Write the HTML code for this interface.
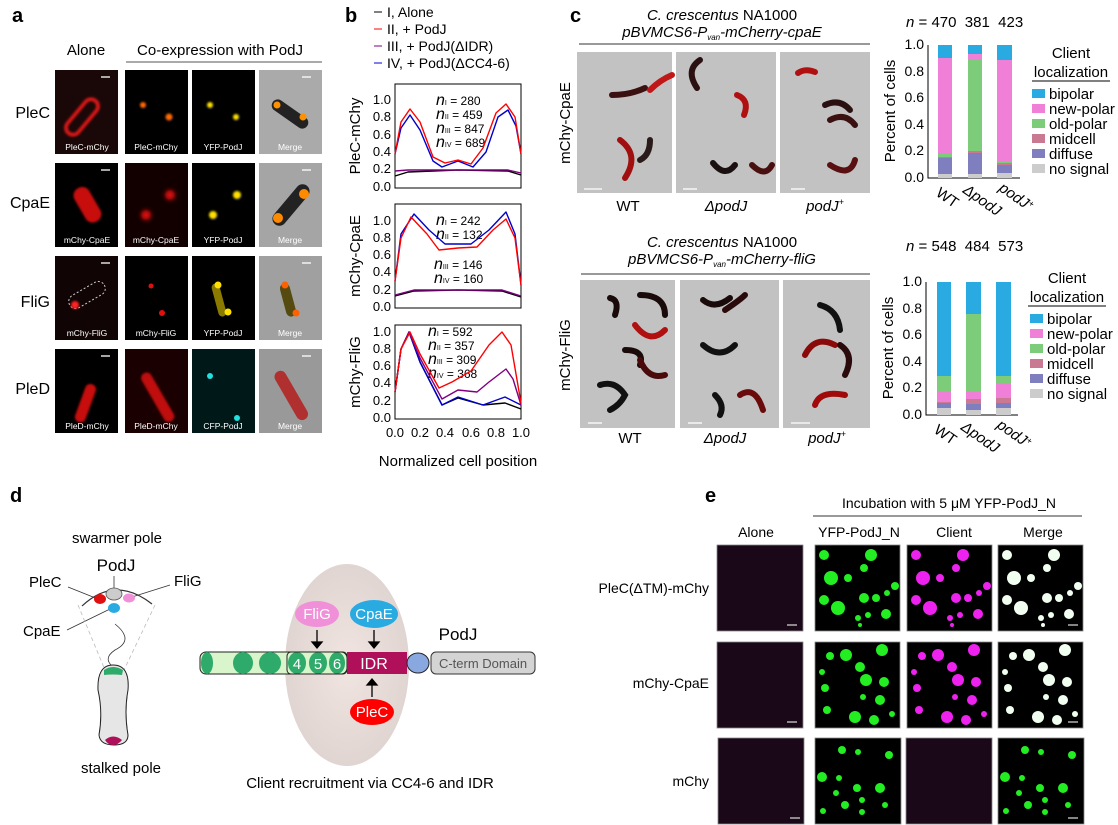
<!DOCTYPE html>
<html><head><meta charset="utf-8"><style>
html,body{margin:0;padding:0;background:#fff}
svg{display:block;font-family:"Liberation Sans",Arial,sans-serif}
</style></head><body>
<svg width="1118" height="825" viewBox="0 0 1118 825" xmlns="http://www.w3.org/2000/svg">
<defs>
<filter id="bl" x="-50%" y="-50%" width="200%" height="200%"><feGaussianBlur stdDeviation="2"/></filter>
<filter id="bl1" x="-50%" y="-50%" width="200%" height="200%"><feGaussianBlur stdDeviation="1"/></filter>
<radialGradient id="eg" cx="0.5" cy="0.5" r="0.5"><stop offset="0" stop-color="#f0e2de"/><stop offset="1" stop-color="#dcd0cc"/></radialGradient>
</defs>
<g font-weight="bold" font-size="20">
<text x="12" y="22">a</text><text x="345" y="22">b</text><text x="570" y="22">c</text><text x="10" y="502">d</text><text x="705" y="502">e</text>
</g>
<!-- Panel a -->
<g font-size="15">
<text x="86" y="55" text-anchor="middle">Alone</text>
<text x="220" y="55" text-anchor="middle">Co-expression with PodJ</text>
</g>
<line x1="126" y1="62" x2="322" y2="62" stroke="#555" stroke-width="1"/>
<g font-size="16" text-anchor="end">
<text x="50" y="118">PleC</text><text x="50" y="208">CpaE</text><text x="50" y="307">FliG</text><text x="50" y="394">PleD</text>
</g>
<g>
<rect x="55" y="70" width="63" height="84" fill="#1a0808"/>
<rect x="75" y="96" width="14" height="42" rx="7" fill="none" stroke="#d01818" stroke-width="4" transform="rotate(40 82 117)" filter="url(#bl1)"/>
<rect x="125" y="70" width="63" height="84" fill="#000"/>
<circle cx="143" cy="105" r="3" fill="#ff6a00" filter="url(#bl1)"/><circle cx="169" cy="117" r="3.5" fill="#ff6a00" filter="url(#bl1)"/>
<rect x="192" y="70" width="63" height="84" fill="#000"/>
<circle cx="210" cy="105" r="3" fill="#ffe000" filter="url(#bl1)"/><circle cx="236" cy="117" r="3" fill="#ffe000" filter="url(#bl1)"/>
<rect x="259" y="70" width="63" height="84" fill="#aaa"/>
<rect x="284" y="93" width="12" height="42" rx="6" fill="#222" transform="rotate(-55 290 114)"/>
<circle cx="277" cy="105" r="3.5" fill="#ff9000"/><circle cx="303" cy="117" r="3.5" fill="#ff9000"/>
<rect x="55" y="163" width="63" height="84" fill="#000"/>
<rect x="79" y="186" width="17" height="38" rx="8" fill="#c81010" transform="rotate(-30 87 205)" filter="url(#bl1)"/>
<rect x="125" y="163" width="63" height="84" fill="#120000"/>
<circle cx="170" cy="195" r="5" fill="#e01010" filter="url(#bl)"/><circle cx="146" cy="215" r="5" fill="#e01010" filter="url(#bl)"/>
<rect x="192" y="163" width="63" height="84" fill="#000"/>
<circle cx="237" cy="195" r="4" fill="#ffe000" filter="url(#bl1)"/><circle cx="213" cy="215" r="4" fill="#ffe000" filter="url(#bl1)"/>
<rect x="259" y="163" width="63" height="84" fill="#a5a5a5"/>
<rect x="284" y="180" width="14" height="50" rx="7" fill="#222" transform="rotate(40 291 205)"/>
<circle cx="304" cy="194" r="5" fill="#ff8a00"/><circle cx="278" cy="218" r="5" fill="#ff8a00"/>
<rect x="55" y="256" width="63" height="84" fill="#100404"/>
<rect x="80" y="275" width="14" height="40" rx="7" fill="none" stroke="#ccc" stroke-width="1" stroke-dasharray="2,2" transform="rotate(60 87 295)"/>
<circle cx="75" cy="305" r="4" fill="#ff2020" filter="url(#bl1)"/>
<rect x="125" y="256" width="63" height="84" fill="#000"/>
<circle cx="151" cy="286" r="2.5" fill="#e01010"/><circle cx="162" cy="313" r="3" fill="#e01010"/>
<rect x="192" y="256" width="63" height="84" fill="#000"/>
<rect x="215" y="283" width="8" height="34" rx="4" fill="#8a7a00" transform="rotate(-15 219 300)"/>
<circle cx="218" cy="285" r="3.5" fill="#ffe000"/><circle cx="228" cy="312" r="3.5" fill="#ffe000"/>
<rect x="259" y="256" width="63" height="84" fill="#a0a0a0"/>
<rect x="283" y="283" width="10" height="34" rx="5" fill="#554a10" transform="rotate(-15 288 300)"/>
<circle cx="285" cy="285" r="3.5" fill="#ff6000"/><circle cx="296" cy="313" r="3.5" fill="#ff6000"/>
<rect x="55" y="349" width="63" height="84" fill="#000"/>
<rect x="80" y="383" width="11" height="40" rx="5" fill="#c81010" transform="rotate(20 85 403)" filter="url(#bl1)"/>
<rect x="125" y="349" width="63" height="84" fill="#1a0000"/>
<rect x="152" y="370" width="11" height="55" rx="5" fill="#c01010" transform="rotate(-30 157 397)" filter="url(#bl1)"/>
<rect x="192" y="349" width="63" height="84" fill="#001818"/>
<circle cx="210" cy="376" r="3" fill="#20e0e0"/><circle cx="237" cy="418" r="3" fill="#20e0e0"/>
<rect x="259" y="349" width="63" height="84" fill="#999"/>
<rect x="285" y="368" width="12" height="55" rx="6" fill="#b03030" transform="rotate(-30 291 395)"/>
</g>
<g font-size="8.5" fill="#fff" text-anchor="middle">
<text x="87" y="150">PleC-mChy</text><text x="156" y="150">PleC-mChy</text><text x="223" y="150">YFP-PodJ</text><text x="290" y="150">Merge</text>
<text x="87" y="243">mChy-CpaE</text><text x="156" y="243">mChy-CpaE</text><text x="223" y="243">YFP-PodJ</text><text x="290" y="243">Merge</text>
<text x="87" y="336">mChy-FliG</text><text x="156" y="336">mChy-FliG</text><text x="223" y="336">YFP-PodJ</text><text x="290" y="336">Merge</text>
<text x="87" y="429">PleD-mChy</text><text x="156" y="429">PleD-mChy</text><text x="223" y="429">CFP-PodJ</text><text x="290" y="429">Merge</text>
</g>
<g stroke="#fff" stroke-width="1.3">
<line x1="101" y1="77" x2="110" y2="77"/><line x1="302" y1="77" x2="311" y2="77"/>
<line x1="101" y1="170" x2="110" y2="170"/><line x1="302" y1="170" x2="311" y2="170"/>
<line x1="101" y1="263" x2="110" y2="263"/><line x1="302" y1="263" x2="311" y2="263"/>
<line x1="101" y1="356" x2="110" y2="356"/><line x1="302" y1="356" x2="311" y2="356"/>
</g>
<!-- Panel b -->
<g font-size="14">
<line x1="374" y1="12" x2="382" y2="12" stroke="#000"/><text x="387" y="17">I, Alone</text>
<line x1="374" y1="29" x2="382" y2="29" stroke="#f00"/><text x="387" y="34">II, + PodJ</text>
<line x1="374" y1="46" x2="382" y2="46" stroke="#800080"/><text x="387" y="51">III, + PodJ(ΔIDR)</text>
<line x1="374" y1="63" x2="382" y2="63" stroke="#00c"/><text x="387" y="68">IV, + PodJ(ΔCC4-6)</text>
</g>
<g fill="none" stroke="#000" stroke-width="1">
<rect x="395" y="84" width="126" height="104"/>
<rect x="395" y="204" width="126" height="104"/>
<rect x="395" y="325" width="126" height="94"/>
</g>
<g font-size="13" text-anchor="end">
<text x="391" y="104">1.0</text><text x="391" y="121">0.8</text><text x="391" y="139">0.6</text><text x="391" y="156">0.4</text><text x="391" y="173">0.2</text><text x="391" y="191">0.0</text>
<text x="391" y="225">1.0</text><text x="391" y="242">0.8</text><text x="391" y="259">0.6</text><text x="391" y="276">0.4</text><text x="391" y="294">0.2</text><text x="391" y="311">0.0</text>
<text x="391" y="336">1.0</text><text x="391" y="353">0.8</text><text x="391" y="370">0.6</text><text x="391" y="387">0.4</text><text x="391" y="405">0.2</text><text x="391" y="422">0.0</text>
</g>
<g font-size="13" text-anchor="middle">
<text x="395" y="437">0.0</text><text x="420" y="437">0.2</text><text x="445" y="437">0.4</text><text x="471" y="437">0.6</text><text x="496" y="437">0.8</text><text x="521" y="437">1.0</text>
<text x="458" y="466" font-size="15">Normalized cell position</text>
</g>
<g font-size="15" text-anchor="middle">
<text transform="translate(360 136) rotate(-90)">PleC-mChy</text>
<text transform="translate(360 256) rotate(-90)">mChy-CpaE</text>
<text transform="translate(360 372) rotate(-90)">mChy-FliG</text>
</g>
<g font-size="12">
<text x="436" y="105"><tspan font-style="italic" font-size="16">n</tspan><tspan font-size="7">I</tspan> = 280</text>
<text x="436" y="119"><tspan font-style="italic" font-size="16">n</tspan><tspan font-size="7">II</tspan> = 459</text>
<text x="436" y="133"><tspan font-style="italic" font-size="16">n</tspan><tspan font-size="7">III</tspan> = 847</text>
<text x="436" y="147"><tspan font-style="italic" font-size="16">n</tspan><tspan font-size="7">IV</tspan> = 689</text>
<text x="436" y="225"><tspan font-style="italic" font-size="16">n</tspan><tspan font-size="7">I</tspan> = 242</text>
<text x="436" y="239"><tspan font-style="italic" font-size="16">n</tspan><tspan font-size="7">II</tspan> = 132</text>
<text x="434" y="269"><tspan font-style="italic" font-size="16">n</tspan><tspan font-size="7">III</tspan> = 146</text>
<text x="434" y="283"><tspan font-style="italic" font-size="16">n</tspan><tspan font-size="7">IV</tspan> = 160</text>
<text x="428" y="336"><tspan font-style="italic" font-size="16">n</tspan><tspan font-size="7">I</tspan> = 592</text>
<text x="428" y="350"><tspan font-style="italic" font-size="16">n</tspan><tspan font-size="7">II</tspan> = 357</text>
<text x="428" y="364"><tspan font-style="italic" font-size="16">n</tspan><tspan font-size="7">III</tspan> = 309</text>
<text x="428" y="378"><tspan font-style="italic" font-size="16">n</tspan><tspan font-size="7">IV</tspan> = 368</text>
</g>
<g fill="none" stroke-width="1.4" stroke-linejoin="round">
<polyline stroke="#000" points="395,176 408,172 458,170 508,171 521,175"/>
<polyline stroke="#800080" points="395,171 408,170 458,170 508,170 521,173"/>
<polyline stroke="#00c" points="395,154 401,128 410,115 420,130 433,161 442,167 458,161 473,167 486,152 498,117 508,110 516,126 521,154"/>
<polyline stroke="#f00" points="395,154 401,122 410,109 420,122 433,157 445,163 458,160 471,164 483,148 496,113 506,104 515,117 521,154"/>
<polyline stroke="#000" points="395,296 414,291 458,290 502,291 521,297"/>
<polyline stroke="#800080" points="395,295 414,290 458,290 502,290 521,296"/>
<polyline stroke="#00c" points="395,281 401,234 414,214 429,230 445,244 471,244 489,230 506,212 515,234 521,285"/>
<polyline stroke="#f00" points="395,281 401,238 411,217 427,234 439,250 458,248 477,247 493,230 506,219 515,238 521,285"/>
<polyline stroke="#000" points="395,392 401,349 409,332 420,362 442,405 458,398 483,405 505,403 521,409"/>
<polyline stroke="#00c" points="395,392 401,349 409,332 420,362 442,405 458,397 483,405 505,397 521,405"/>
<polyline stroke="#800080" points="395,392 401,349 409,332 420,358 442,399 458,390 477,392 489,382 506,369 513,379 521,405"/>
<polyline stroke="#f00" points="395,392 401,349 410,332 420,354 439,388 452,382 471,371 489,345 502,332 511,345 521,403"/>
</g>
<!-- Panel c -->
<g font-size="15" text-anchor="middle">
<text x="722" y="20"><tspan font-style="italic">C. crescentus</tspan> NA1000</text>
<text x="722" y="37" font-style="italic">pBVMCS6-P<tspan font-size="8" dy="3">van</tspan><tspan dy="-3">-mCherry-cpaE</tspan></text>
<text x="722" y="247"><tspan font-style="italic">C. crescentus</tspan> NA1000</text>
<text x="722" y="264" font-style="italic">pBVMCS6-P<tspan font-size="8" dy="3">van</tspan><tspan dy="-3">-mCherry-fliG</tspan></text>
</g>
<line x1="579" y1="44" x2="870" y2="44" stroke="#333"/>
<line x1="581" y1="274" x2="870" y2="274" stroke="#333"/>
<g font-size="15" text-anchor="middle">
<text transform="translate(570 123) rotate(-90)">mChy-CpaE</text>
<text transform="translate(570 355) rotate(-90)">mChy-FliG</text>
<text x="628" y="211">WT</text><text x="726" y="211" font-style="italic">ΔpodJ</text><text x="825" y="211" font-style="italic">podJ<tspan font-size="9" dy="-6">+</tspan></text>
<text x="630" y="443">WT</text><text x="725" y="443" font-style="italic">ΔpodJ</text><text x="827" y="443" font-style="italic">podJ<tspan font-size="9" dy="-6">+</tspan></text>
</g>
<g fill="#c2c2c2">
<rect x="577" y="52" width="95" height="141"/><rect x="676" y="52" width="100" height="141"/><rect x="780" y="52" width="90" height="141"/>
<rect x="580" y="280" width="95" height="148"/><rect x="680" y="280" width="99" height="148"/><rect x="783" y="280" width="87" height="148"/>
</g>
<g fill="none" stroke-linecap="round" stroke-width="6">
<path d="M612 95 Q630 95 645 88" stroke="#3a1010"/><path d="M650 90 Q660 80 672 75" stroke="#c01818"/>
<path d="M620 140 Q640 155 625 178" stroke="#a01010"/><path d="M650 140 Q650 155 640 160" stroke="#2a1a1a"/>
<path d="M700 60 Q685 70 697 88" stroke="#2a1010"/><path d="M737 95 Q750 100 744 115" stroke="#b01010"/>
<path d="M713 163 Q725 178 735 165" stroke="#1a1010"/><path d="M752 165 Q765 178 772 165" stroke="#4a1010"/>
<path d="M798 73 Q805 68 815 72" stroke="#b01010"/><path d="M825 105 Q840 98 850 110" stroke="#2a1010"/>
<path d="M830 120 Q845 112 855 125" stroke="#3a1010"/><path d="M830 165 Q850 178 855 160" stroke="#5a1010"/>
<path d="M610 298 Q620 300 615 315" stroke="#1a0a0a"/><path d="M640 295 Q665 295 665 315" stroke="#1a0a0a"/>
<path d="M635 325 Q650 345 665 330" stroke="#b01010"/><path d="M625 350 Q645 350 640 365" stroke="#1a0a0a"/>
<path d="M640 360 Q648 380 665 375" stroke="#4a0a0a"/><path d="M600 385 Q615 380 625 395 Q620 405 610 410" stroke="#111"/>
<path d="M703 300 Q715 310 730 298" stroke="#1a0a0a"/><path d="M725 310 Q740 300 745 295" stroke="#2a0a0a"/>
<path d="M703 345 Q720 360 735 345" stroke="#111"/><path d="M715 395 Q725 405 720 415" stroke="#111"/>
<path d="M740 395 Q755 385 763 410" stroke="#6a0a0a"/>
<path d="M820 305 Q838 310 840 330" stroke="#111"/><path d="M805 355 Q815 335 835 345" stroke="#8a0a0a"/>
<path d="M840 345 Q855 355 845 375" stroke="#2a0a0a"/><path d="M815 405 Q820 390 845 395" stroke="#a00a0a"/>
</g>
<g stroke="#fff" stroke-width="1.3">
<line x1="584" y1="189" x2="602" y2="189"/><line x1="683" y1="189" x2="697" y2="189"/><line x1="791" y1="189" x2="805" y2="189"/>
<line x1="588" y1="423" x2="602" y2="423"/><line x1="688" y1="423" x2="702" y2="423"/><line x1="791" y1="423" x2="810" y2="423"/>
</g>
<g font-size="15">
<text x="906" y="27"><tspan font-style="italic">n</tspan> = 470&#160; 381&#160; 423</text>
<text x="906" y="251"><tspan font-style="italic">n</tspan> = 548&#160; 484&#160; 573</text>
</g>
<g font-size="14" text-anchor="end">
<text x="924" y="49">1.0</text><text x="924" y="76">0.8</text><text x="924" y="102">0.6</text><text x="924" y="129">0.4</text><text x="924" y="155">0.2</text><text x="924" y="182">0.0</text>
<text x="922" y="286">1.0</text><text x="922" y="313">0.8</text><text x="922" y="339">0.6</text><text x="922" y="366">0.4</text><text x="922" y="392">0.2</text><text x="922" y="419">0.0</text>
</g>
<g font-size="15" text-anchor="middle">
<text transform="translate(895 111) rotate(-90)">Percent of cells</text>
<text transform="translate(893 348) rotate(-90)">Percent of cells</text>
</g>
<g stroke="#000" fill="none">
<polyline points="928,45 928,178 1020,178"/>
<polyline points="926,282 926,415 1018,415"/>
</g>
<g font-size="15">
<text transform="translate(935 195) rotate(35)">WT</text>
<text transform="translate(962 192) rotate(35)" font-style="italic">ΔpodJ</text>
<text transform="translate(998 190) rotate(35)" font-style="italic">podJ<tspan font-size="9" dy="-5">+</tspan></text>
<text transform="translate(933 432) rotate(35)">WT</text>
<text transform="translate(960 429) rotate(35)" font-style="italic">ΔpodJ</text>
<text transform="translate(996 427) rotate(35)" font-style="italic">podJ<tspan font-size="9" dy="-5">+</tspan></text>
</g>
<g>
<rect x="938" y="174" width="14" height="4" fill="#ccc"/><rect x="938" y="158" width="14" height="16" fill="#7f7fbf"/><rect x="938" y="157" width="14" height="1" fill="#c97a92"/><rect x="938" y="153" width="14" height="4" fill="#7ccc7a"/><rect x="938" y="58" width="14" height="95" fill="#f07fd8"/><rect x="938" y="45" width="14" height="13" fill="#29abe2"/>
<rect x="968" y="174" width="14" height="4" fill="#ccc"/><rect x="968" y="153" width="14" height="21" fill="#7f7fbf"/><rect x="968" y="151" width="14" height="2" fill="#c97a92"/><rect x="968" y="60" width="14" height="91" fill="#7ccc7a"/><rect x="968" y="54" width="14" height="6" fill="#f07fd8"/><rect x="968" y="45" width="14" height="9" fill="#29abe2"/>
<rect x="997" y="173" width="15" height="5" fill="#ccc"/><rect x="997" y="165" width="15" height="8" fill="#7f7fbf"/><rect x="997" y="163" width="15" height="2" fill="#c97a92"/><rect x="997" y="162" width="15" height="1" fill="#7ccc7a"/><rect x="997" y="60" width="15" height="102" fill="#f07fd8"/><rect x="997" y="45" width="15" height="15" fill="#29abe2"/>
</g>
<g>
<rect x="937" y="408" width="14" height="7" fill="#ccc"/><rect x="937" y="403" width="14" height="5" fill="#7f7fbf"/><rect x="937" y="402" width="14" height="1" fill="#c97a92"/><rect x="937" y="391" width="14" height="11" fill="#f07fd8"/><rect x="937" y="376" width="14" height="15" fill="#7ccc7a"/><rect x="937" y="282" width="14" height="94" fill="#29abe2"/>
<rect x="966" y="410" width="15" height="5" fill="#ccc"/><rect x="966" y="404" width="15" height="6" fill="#7f7fbf"/><rect x="966" y="399" width="15" height="5" fill="#c97a92"/><rect x="966" y="392" width="15" height="7" fill="#f07fd8"/><rect x="966" y="314" width="15" height="78" fill="#7ccc7a"/><rect x="966" y="282" width="15" height="32" fill="#29abe2"/>
<rect x="996" y="408" width="15" height="7" fill="#ccc"/><rect x="996" y="403" width="15" height="5" fill="#7f7fbf"/><rect x="996" y="398" width="15" height="5" fill="#c97a92"/><rect x="996" y="383" width="15" height="15" fill="#f07fd8"/><rect x="996" y="376" width="15" height="7" fill="#7ccc7a"/><rect x="996" y="282" width="15" height="94" fill="#29abe2"/>
</g>
<g font-size="15">
<text x="1071" y="58" text-anchor="middle">Client</text><text x="1071" y="77" text-anchor="middle">localization</text>
<line x1="1032" y1="81" x2="1110" y2="81" stroke="#000"/>
<rect x="1032" y="89" width="13" height="9" fill="#29abe2"/><text x="1049" y="99">bipolar</text>
<rect x="1032" y="104" width="13" height="9" fill="#f07fd8"/><text x="1049" y="114">new-polar</text>
<rect x="1032" y="119" width="13" height="9" fill="#7ccc7a"/><text x="1049" y="129">old-polar</text>
<rect x="1032" y="134" width="13" height="9" fill="#c97a92"/><text x="1049" y="144">midcell</text>
<rect x="1032" y="149" width="13" height="9" fill="#7f7fbf"/><text x="1049" y="159">diffuse</text>
<rect x="1032" y="164" width="13" height="9" fill="#ccc"/><text x="1049" y="174">no signal</text>
<text x="1067" y="283" text-anchor="middle">Client</text><text x="1067" y="302" text-anchor="middle">localization</text>
<line x1="1028" y1="306" x2="1106" y2="306" stroke="#000"/>
<rect x="1030" y="314" width="13" height="9" fill="#29abe2"/><text x="1047" y="324">bipolar</text>
<rect x="1030" y="329" width="13" height="9" fill="#f07fd8"/><text x="1047" y="339">new-polar</text>
<rect x="1030" y="344" width="13" height="9" fill="#7ccc7a"/><text x="1047" y="354">old-polar</text>
<rect x="1030" y="359" width="13" height="9" fill="#c97a92"/><text x="1047" y="369">midcell</text>
<rect x="1030" y="374" width="13" height="9" fill="#7f7fbf"/><text x="1047" y="384">diffuse</text>
<rect x="1030" y="389" width="13" height="9" fill="#ccc"/><text x="1047" y="399">no signal</text>
</g>
<!-- Panel d -->
<g font-size="15">
<text x="117" y="543" text-anchor="middle">swarmer pole</text>
<text x="116" y="571" text-anchor="middle" font-size="17">PodJ</text>
<text x="29" y="587">PleC</text><text x="174" y="586">FliG</text><text x="23" y="636">CpaE</text>
<text x="121" y="773" text-anchor="middle">stalked pole</text>
</g>
<g stroke="#333" stroke-width="0.8" fill="none">
<line x1="68" y1="587" x2="98" y2="599"/><line x1="114" y1="576" x2="114" y2="592"/><line x1="170" y1="585" x2="132" y2="597"/><line x1="67" y1="630" x2="110" y2="609"/>
<path d="M82 606 Q115 575 152 604" stroke-width="1.2"/>
<line x1="78" y1="605" x2="105" y2="670" stroke="#bbb" stroke-dasharray="4,3"/><line x1="155" y1="605" x2="124" y2="670" stroke="#bbb" stroke-dasharray="4,3"/>
<path d="M115 624 Q135 640 115 650 Q100 660 118 670" />
</g>
<ellipse cx="100" cy="599" rx="6" ry="5" fill="#e01010"/><ellipse cx="114" cy="594" rx="8" ry="6" fill="#ccc" stroke="#555" stroke-width="0.8"/><ellipse cx="129" cy="598" rx="6" ry="4.5" fill="#f090d8"/><ellipse cx="114" cy="608" rx="6" ry="5" fill="#29abe2"/>
<path d="M113 665 Q130 665 128 690 Q124 712 128 735 Q128 745 114 745 Q100 745 99 735 Q103 712 98 690 Q97 665 113 665Z" fill="#e6e6e6" stroke="#222" stroke-width="1"/>
<path d="M104 670 Q113 664 123 670 L122 675 Q113 674 104 675Z" fill="#2eaa6a"/>
<path d="M105 740 Q113 733 122 740 Q118 745 113 745 Q108 745 105 740Z" fill="#b0105a"/>
<ellipse cx="347" cy="665" rx="62" ry="101" fill="url(#eg)" opacity="0.9"/>
<rect x="200" y="652" width="147" height="22" rx="6" fill="#d8f5cc" stroke="#222"/>
<g fill="#2eaa6a"><ellipse cx="207" cy="663" rx="6" ry="11"/><ellipse cx="243" cy="663" rx="10" ry="11"/><ellipse cx="270" cy="663" rx="11" ry="11"/><ellipse cx="297" cy="663" rx="9" ry="11"/><ellipse cx="318" cy="663" rx="9" ry="11"/><ellipse cx="337" cy="663" rx="8" ry="11"/></g>
<rect x="287" y="652" width="60" height="22" rx="4" fill="none" stroke="#222"/>
<g font-size="15" fill="#fff" text-anchor="middle"><text x="297" y="669">4</text><text x="318" y="669">5</text><text x="337" y="669">6</text></g>
<rect x="347" y="652" width="60" height="22" fill="#b0105a"/><text x="374" y="669" font-size="16" fill="#fff" text-anchor="middle">IDR</text>
<ellipse cx="418" cy="663" rx="11" ry="10" fill="#8aa8e0" stroke="#222"/>
<rect x="431" y="652" width="104" height="22" rx="5" fill="#d4d4d4" stroke="#333"/><text x="483" y="668" font-size="13" fill="#555" text-anchor="middle">C-term Domain</text>
<text x="458" y="640" font-size="17" text-anchor="middle">PodJ</text>
<ellipse cx="317" cy="614" rx="22" ry="13" fill="#f090d8"/><text x="317" y="619" font-size="15" fill="#fff" text-anchor="middle">FliG</text>
<ellipse cx="374" cy="614" rx="24" ry="14" fill="#29abe2"/><text x="374" y="619" font-size="15" fill="#fff" text-anchor="middle">CpaE</text>
<ellipse cx="372" cy="712" rx="22" ry="13" fill="#f00"/><text x="372" y="717" font-size="15" fill="#fff" text-anchor="middle">PleC</text>
<g stroke="#000" stroke-width="1.3" fill="#000">
<line x1="317" y1="630" x2="317" y2="645"/><path d="M312 642 L317 648 L322 642Z"/>
<line x1="374" y1="630" x2="374" y2="645"/><path d="M369 642 L374 648 L379 642Z"/>
<line x1="372" y1="697" x2="372" y2="682"/><path d="M367 685 L372 679 L377 685Z"/>
</g>
<text x="370" y="788" font-size="15" text-anchor="middle">Client recruitment via CC4-6 and IDR</text>
<!-- Panel e -->
<g font-size="14" text-anchor="middle">
<text x="949" y="508">Incubation with 5 μM YFP-PodJ_N</text>
<text x="756" y="537">Alone</text><text x="859" y="537">YFP-PodJ_N</text><text x="954" y="537">Client</text><text x="1043" y="537">Merge</text>
</g>
<line x1="813" y1="516" x2="1082" y2="516" stroke="#333"/>
<g font-size="14" text-anchor="end">
<text x="709" y="593">PleC(ΔTM)-mChy</text><text x="709" y="688">mChy-CpaE</text><text x="709" y="786">mChy</text>
</g>
<g fill="#1a0818" stroke="#888" stroke-width="0.8">
<rect x="717" y="545" width="86" height="86"/><rect x="717" y="642" width="86" height="86"/><rect x="718" y="738" width="86" height="86"/>
<rect x="906" y="738" width="86" height="86"/>
</g>
<g fill="#000" stroke="#888" stroke-width="0.8">
<rect x="815" y="545" width="85" height="86"/><rect x="907" y="545" width="85" height="86"/><rect x="998" y="545" width="85" height="86"/>
<rect x="815" y="642" width="85" height="86"/><rect x="907" y="642" width="85" height="86"/><rect x="998" y="642" width="85" height="86"/>
<rect x="815" y="738" width="86" height="86"/><rect x="998" y="738" width="86" height="86"/>
</g>
<g id="d1">
<circle cx="824" cy="555" r="5"/><circle cx="871" cy="555" r="6"/><circle cx="831" cy="578" r="7"/><circle cx="848" cy="578" r="4"/><circle cx="864" cy="568" r="4"/><circle cx="824" cy="600" r="5"/><circle cx="838" cy="608" r="7"/><circle cx="864" cy="598" r="5"/><circle cx="876" cy="598" r="4"/><circle cx="887" cy="593" r="3"/><circle cx="886" cy="614" r="5"/><circle cx="868" cy="615" r="3"/><circle cx="858" cy="618" r="3"/><circle cx="895" cy="586" r="4"/><circle cx="860" cy="625" r="2"/>
</g>
<use href="#d1" fill="#22ee22"/>
<use href="#d1" fill="#ee22ee" transform="translate(92 0)"/>
<use href="#d1" fill="#f0fff0" transform="translate(183 0)"/>
<g id="d2">
<circle cx="830" cy="656" r="4"/><circle cx="846" cy="655" r="6"/><circle cx="882" cy="650" r="6"/><circle cx="822" cy="672" r="3"/><circle cx="860" cy="667" r="5"/><circle cx="866" cy="680" r="6"/><circle cx="884" cy="682" r="5"/><circle cx="825" cy="688" r="4"/><circle cx="863" cy="697" r="3"/><circle cx="880" cy="700" r="5"/><circle cx="827" cy="710" r="4"/><circle cx="855" cy="717" r="6"/><circle cx="874" cy="720" r="5"/><circle cx="892" cy="714" r="3"/>
</g>
<use href="#d2" fill="#22ee22"/>
<use href="#d2" fill="#ee22ee" transform="translate(92 0)"/>
<use href="#d2" fill="#f0fff0" transform="translate(183 0)"/>
<g id="d3">
<circle cx="842" cy="750" r="4"/><circle cx="858" cy="752" r="3"/><circle cx="889" cy="755" r="4"/><circle cx="822" cy="777" r="5"/><circle cx="839" cy="778" r="3"/><circle cx="836" cy="793" r="3"/><circle cx="857" cy="788" r="4"/><circle cx="880" cy="788" r="5"/><circle cx="823" cy="811" r="3"/><circle cx="845" cy="805" r="4"/><circle cx="862" cy="812" r="3"/><circle cx="885" cy="805" r="3"/><circle cx="862" cy="800" r="3"/>
</g>
<use href="#d3" fill="#22ee22"/>
<use href="#d3" fill="#22ee22" transform="translate(183 0)"/>
<g stroke="#ccc" stroke-width="1.3">
<line x1="787" y1="625" x2="797" y2="625"/><line x1="787" y1="722" x2="797" y2="722"/><line x1="790" y1="818" x2="800" y2="818"/>
<line x1="1068" y1="625" x2="1078" y2="625"/><line x1="1068" y1="722" x2="1078" y2="722"/><line x1="1068" y1="818" x2="1078" y2="818"/>
</g>
</svg>
</body></html>
